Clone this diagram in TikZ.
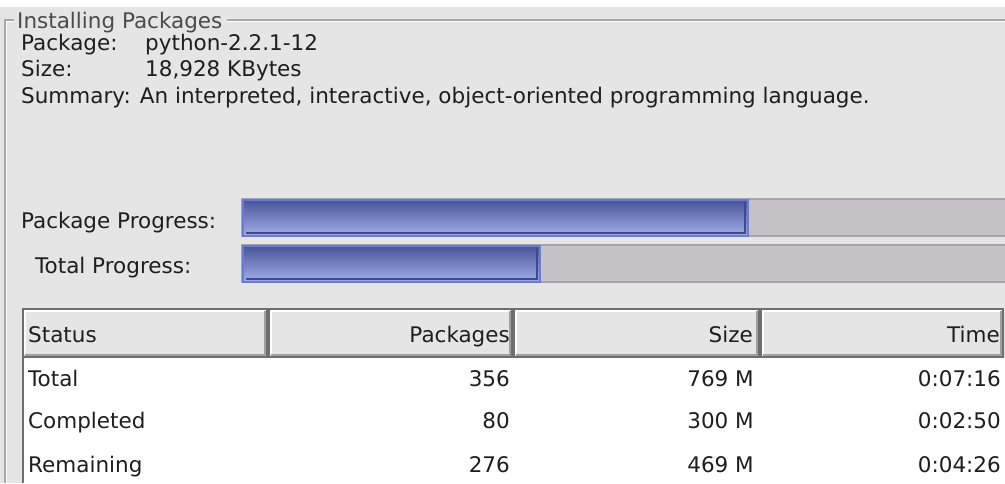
\documentclass[tikz,border=0pt]{standalone}
\usepackage{fontspec}
\setmainfont{DejaVu Sans}
\usetikzlibrary{positioning}
\definecolor{UiPanel}{HTML}{E5E5E5}
\definecolor{UiText}{HTML}{1E1E1E}
\definecolor{UiTitle}{HTML}{4A4A4A}
\definecolor{UiEtch}{HTML}{A8A8A8}
\definecolor{UiTrack}{HTML}{C4C2C4}
\definecolor{UiTrackEdge}{HTML}{A6A4A6}
\definecolor{UiBarTop}{HTML}{4A5699}
\definecolor{UiBarBottom}{HTML}{A3ADEB}
\definecolor{UiBarEdge}{HTML}{6A7BD6}
\definecolor{UiBarShadow}{HTML}{3E4A8E}
\definecolor{UiTableEdge}{HTML}{6E6E6E}
\definecolor{UiHeadShadow}{HTML}{A0A0A0}
\tikzset{
    % Text styles
    uitext/.style={
        inner sep=0pt,
        font=\fontsize{21.5}{26}\selectfont,
        text=UiText
    },
    keytext/.style={uitext, anchor=base west},
    numtext/.style={uitext, anchor=base east},
    % Etched frame lines
    etchdark/.style={draw=UiEtch, line width=1.2pt},
    etchlight/.style={draw=white, line width=1.2pt},
    % Progress bars
    track/.style={
        fill=UiTrack,
        draw=UiTrackEdge,
        line width=1.5pt
    },
    barfill/.style={
        top color=UiBarTop,
        bottom color=UiBarBottom,
        draw=UiBarEdge,
        line width=2pt
    },
    barshadow/.style={draw=UiBarShadow, line width=1.2pt},
    % Table header cells
    headcell/.style={
        fill=UiPanel,
        draw=UiTableEdge,
        line width=2pt
    },
    headlight/.style={draw=white, line width=1.2pt},
    headshade/.style={draw=UiHeadShadow, line width=1.2pt}
}

\begin{document}
\begin{tikzpicture}[x=1pt, y=-1pt]
    % Window background
    \fill[white] (0,0) rectangle (1005,483);
    \fill[UiPanel] (0,7) rectangle (1005,483);
    \useasboundingbox (0,0) rectangle (1005,483);

    % Group frame
    \node[keytext, text=UiTitle] (title) at (17,28) {Installing Packages};
    \coordinate (titleend) at ([xshift=4pt]title.east);
    \draw[etchdark] (14,20) -| (5,483);
    \draw[etchlight] (14,21.5) -| (6.5,483);
    \draw[etchdark] (titleend |- 0,20) -- (1005,20);
    \draw[etchlight] (titleend |- 0,21.5) -- (1005,21.5);

    % Package details
    \node[keytext] (pkgkey) at (21,50) {Package:};
    \node[keytext] (pkgval) at (145,50) {python-2.2.1-12};
    \node[keytext] (sizekey) at (21,76.5) {Size:};
    \node[keytext] (sizeval) at (145,76.5) {18,928 KBytes};
    \node[keytext] (summary) at (21,103) {Summary: An interpreted, interactive, object-oriented programming language.};

    % Package progress
    \node[keytext] (pkglabel) at (21,228) {Package Progress:};
    \draw[track] (242,199) rectangle (1010,236);
    \draw[barfill] (243,200) rectangle (748,236);
    \draw[barshadow] (745,202) -- (745,233) -- (246,233);

    % Total progress
    \node[keytext] (totlabel) at (35,273) {Total Progress:};
    \draw[track] (242,245) rectangle (1010,282);
    \draw[barfill] (243,246) rectangle (540,282);
    \draw[barshadow] (537,248) -- (537,279) -- (246,279);

    % Status table
    \fill[white] (23,357) rectangle (1005,483);
    \draw[UiTableEdge, line width=2pt] (23,309) -- (23,483);
    \foreach \xa/\xb in {23/267, 269/512, 514/759, 761/1003} {
        \draw[headcell] (\xa,309) rectangle (\xb,357);
        \draw[headlight] (\xa+2,355) -- (\xa+2,311) -- (\xb-2,311);
        \draw[headshade] (\xa+2,355) -- (\xb-2,355) -- (\xb-2,311);
    }
    \node[keytext] (hstatus) at (28,342) {Status};
    \node[numtext] (hpackages) at (510,342) {Packages};
    \node[numtext] (hsize) at (753,342) {Size};
    \node[numtext] (htime) at (1000,342) {Time};

    % Table rows
    \foreach \name/\pk/\sz/\tm/\y [count=\i] in {Total/356/769 M/0:07:16/386, Completed/80/300 M/0:02:50/428, Remaining/276/469 M/0:04:26/472} {
        \node[keytext] (status\i) at (28,\y) {\name};
        \node[numtext] (packages\i) at (510,\y) {\pk};
        \node[numtext] (size\i) at (754,\y) {\sz};
        \node[numtext] (time\i) at (1001,\y) {\tm};
    }
\end{tikzpicture}
\end{document}
